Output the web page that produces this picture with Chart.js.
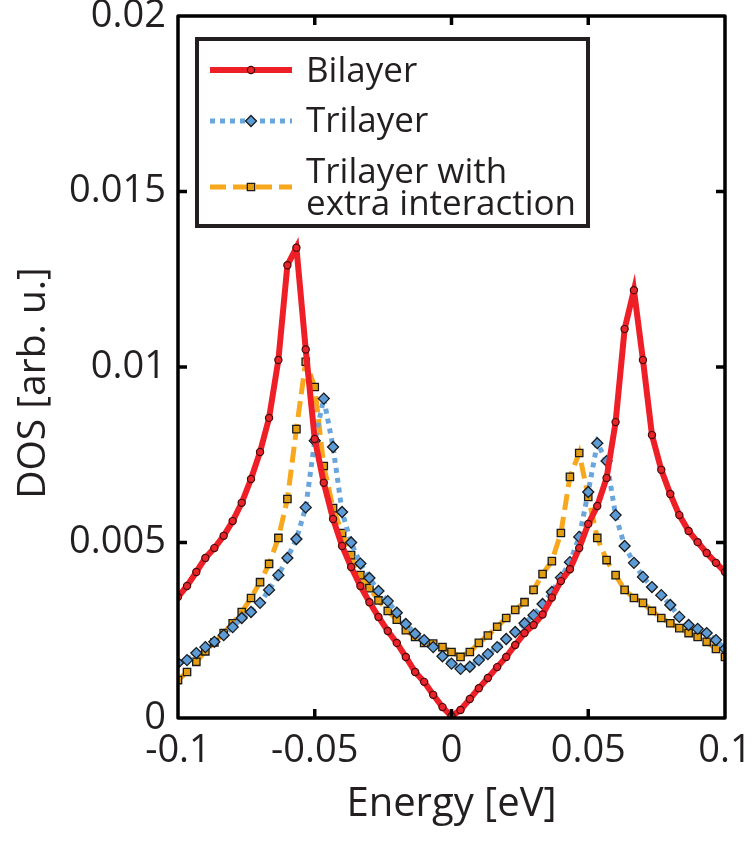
<!DOCTYPE html>
<html><head><meta charset="utf-8">
<script src="https://cdn.jsdelivr.net/npm/chart.js@4.4.1/dist/chart.umd.min.js"></script>
<style>html,body{margin:0;padding:0;background:#fff;}#wrap{width:754px;height:841px;}</style>
</head><body><div id="wrap"><canvas id="c" width="754" height="841"></canvas></div>
<script>
const energy = [-0.1,-0.0967,-0.0933,-0.09,-0.0867,-0.0833,-0.08,-0.0767,-0.0733,-0.07,
  -0.0667,-0.0633,-0.06,-0.0567,-0.0533,-0.05,-0.0467,-0.0433,-0.04,-0.0367,
  -0.0333,-0.03,-0.0267,-0.0233,-0.02,-0.0167,-0.0133,-0.01,-0.0067,-0.0033,
  0,0.0033,0.0067,0.01,0.0133,0.0167,0.02,0.0233,0.0267,0.03,
  0.0333,0.0367,0.04,0.0433,0.0467,0.05,0.0533,0.0567,0.06,0.0633,
  0.0667,0.07,0.0733,0.0767,0.08,0.0833,0.0867,0.09,0.0933,0.0967,0.1];
const bilayer = [0.00345,0.00376,0.00416,0.00456,0.00484,0.00519,0.00561,0.00613,0.00681,0.00758,
  0.00855,0.0102,0.0129,0.0134,0.0105,0.00795,0.0067,0.00567,0.0049,0.0043,
  0.00376,0.0033,0.00288,0.00248,0.00214,0.00174,0.00131,0.00103,0.00066,0.00031,
  0.00005,0.00023,0.00054,0.00085,0.00114,0.00145,0.00174,0.00208,0.00242,0.00265,
  0.00295,0.00343,0.0039,0.00424,0.00484,0.00553,0.00604,0.00684,0.00843,0.01108,
  0.01219,0.0102,0.00806,0.00707,0.00638,0.00578,0.00533,0.00501,0.0047,0.00442,0.00416];
const trilayer = [0.00157,0.00165,0.00185,0.00202,0.00217,0.00236,0.00259,0.00285,0.00302,0.00328,
  0.00365,0.00407,0.00456,0.0051,0.006,0.0079,0.0091,0.00772,0.00587,0.005,
  0.0044,0.00399,0.00362,0.00333,0.003,0.00268,0.0024,0.00222,0.00202,0.00176,
  0.00155,0.0014,0.00146,0.00165,0.00182,0.00202,0.00225,0.00245,0.0027,0.00293,
  0.00325,0.00359,0.004,0.00444,0.00516,0.00644,0.00783,0.00732,0.00578,0.0049,
  0.00442,0.00402,0.00373,0.0035,0.00322,0.00288,0.00265,0.00254,0.00242,0.00222,0.00197];
const trilayerExtra = [0.00108,0.00131,0.0016,0.0019,0.00215,0.00242,0.0027,0.00302,0.00342,0.00387,
  0.00439,0.00513,0.00624,0.00823,0.01015,0.00943,0.00718,0.00598,0.00527,0.00464,
  0.00407,0.0037,0.00335,0.00305,0.0028,0.0025,0.00231,0.00214,0.00212,0.00202,
  0.00188,0.00174,0.00188,0.00214,0.00235,0.0026,0.00285,0.00308,0.0033,0.00365,
  0.0041,0.00447,0.00527,0.00687,0.00755,0.0063,0.00513,0.0045,0.00407,0.00365,
  0.00342,0.00328,0.00305,0.00285,0.0027,0.00256,0.00242,0.00231,0.00217,0.00197,0.00174];
const xTicks = [-0.1,-0.05,0,0.05,0.1];
const xTickLabels = ['-0.1','-0.05','0','0.05','0.1'];
const yTicks = [0,0.005,0.01,0.015,0.02];
const yTickLabels = ['0','0.005','0.01','0.015','0.02'];
const seriesNames = [['Bilayer'],['Trilayer'],['Trilayer with','extra interaction']];
const xTitle = 'Energy [eV]';
const yTitle = 'DOS [arb. u.]';

const FONT = '"Open Sans", "DejaVu Sans", sans-serif';
const TEXT = '#231f20';
const toPts = ys => energy.map((e,i)=>({x:e,y:ys[i]}));

const datasets = [
  {label:seriesNames[0].join(' '), data:toPts(bilayer), borderColor:'#ee1f26', borderWidth:6,
   pointStyle:'circle', pointRadius:3.6, pointBackgroundColor:'#e8242a', pointBorderColor:'#4a0a0a', pointBorderWidth:1.2, order:0},
  {label:seriesNames[1].join(' '), data:toPts(trilayer), borderColor:'#6aa6dc', borderWidth:5, borderDash:[5,5],
   pointStyle:'rectRot', pointRadius:5.5, pointBackgroundColor:'#5d9bd6', pointBorderColor:'#1a1a1a', pointBorderWidth:1.3, order:1},
  {label:seriesNames[2].join(' '), data:toPts(trilayerExtra), borderColor:'#f8a81c', borderWidth:5, borderDash:[16,7],
   pointStyle:'rect', pointRadius:5.2, pointBackgroundColor:'#e39d12', pointBorderColor:'#1a1a1a', pointBorderWidth:1.3, order:2}
];

function drawMarker(ctx, style, x, y, r, fill, stroke, bw){
  ctx.save();
  ctx.setLineDash([]);
  ctx.fillStyle = fill; ctx.strokeStyle = stroke; ctx.lineWidth = bw;
  ctx.beginPath();
  if (style==='circle'){ ctx.arc(x,y,r,0,Math.PI*2); }
  else if (style==='rectRot'){ ctx.moveTo(x,y-r); ctx.lineTo(x+r,y); ctx.lineTo(x,y+r); ctx.lineTo(x-r,y); ctx.closePath(); }
  else { const s=Math.SQRT1_2*r; ctx.rect(x-s,y-s,2*s,2*s); }
  ctx.fill(); ctx.stroke();
  ctx.restore();
}

const framePlugin = {
  id:'frame',
  afterDatasetsDraw(chart){
    const {ctx, chartArea:a, scales:{x, y}} = chart;
    ctx.save();
    ctx.strokeStyle = '#000'; ctx.lineWidth = 3.5; ctx.setLineDash([]);
    const tl = 9;
    ctx.beginPath();
    xTicks.forEach(v=>{ if (v<=-0.1 || v>=0.1) return; const px=x.getPixelForValue(v);
      ctx.moveTo(px,a.bottom); ctx.lineTo(px,a.bottom-tl); ctx.moveTo(px,a.top); ctx.lineTo(px,a.top+tl); });
    yTicks.forEach(v=>{ if (v<=0 || v>=0.02) return; const py=y.getPixelForValue(v);
      ctx.moveTo(a.left,py); ctx.lineTo(a.left+tl,py); ctx.moveTo(a.right,py); ctx.lineTo(a.right-tl,py); });
    ctx.stroke();
    ctx.lineJoin = 'round';
    ctx.strokeRect(a.left, a.top, a.right-a.left, a.bottom-a.top);
    ctx.restore();
  },
  afterDraw(chart){
    const ctx = chart.ctx;
    // y axis title
    ctx.save();
    ctx.translate(45, 383);
    ctx.rotate(-Math.PI/2);
    ctx.fillStyle = TEXT; ctx.font = '39px '+FONT; ctx.textAlign='center'; ctx.textBaseline='alphabetic';
    ctx.fillText(yTitle, 0, 0);
    ctx.restore();
    // legend
    const bx=197, by=39, bw=391, bh=187;
    ctx.save();
    ctx.fillStyle='#fff'; ctx.fillRect(bx,by,bw,bh);
    ctx.strokeStyle='#231f20'; ctx.lineWidth=4; ctx.setLineDash([]);
    ctx.strokeRect(bx,by,bw,bh);
    const rows=[70,121,187];
    const baselines=[[82],[132],[183,215]];
    chart.data.datasets.forEach((ds,i)=>{
      const yy=rows[i];
      ctx.save();
      ctx.strokeStyle=ds.borderColor; ctx.lineWidth=ds.borderWidth;
      ctx.setLineDash(ds.borderDash||[]);
      ctx.beginPath(); ctx.moveTo(210,yy); ctx.lineTo(292,yy); ctx.stroke();
      ctx.restore();
      drawMarker(ctx, ds.pointStyle, 251, yy, ds.pointRadius, ds.pointBackgroundColor, ds.pointBorderColor, ds.pointBorderWidth);
      ctx.fillStyle=TEXT; ctx.font='35px '+FONT; ctx.textBaseline='alphabetic'; ctx.textAlign='left';
      seriesNames[i].forEach((t,j)=>ctx.fillText(t,306,baselines[i][j]));
    });
    ctx.restore();
  }
};

new Chart(document.getElementById('c'), {
  type:'line',
  data:{datasets},
  options:{
    responsive:false, animation:false, devicePixelRatio:1,
    layout:{padding:{top:16,right:29,left:0,bottom:0}},
    elements:{line:{tension:0}},
    plugins:{legend:{display:false}, tooltip:{enabled:false}},
    scales:{
      x:{type:'linear', min:-0.1, max:0.1,
        afterBuildTicks:s=>{s.ticks=xTicks.map(v=>({value:v}));},
        afterFit:s=>{s.height=123; s.paddingLeft=0; s.paddingRight=0; s.paddingTop=0; s.paddingBottom=0;},
        grid:{display:false, drawTicks:false}, border:{display:false},
        ticks:{padding:10, color:TEXT, font:{family:FONT,size:38}, maxRotation:0, autoSkip:false,
          callback:(v,i)=>xTickLabels[i]},
        title:{display:true, text:xTitle, color:TEXT, font:{family:FONT,size:40}, padding:{top:0,bottom:12}}
      },
      y:{type:'linear', min:0, max:0.02,
        afterBuildTicks:s=>{s.ticks=yTicks.map(v=>({value:v}));},
        afterFit:s=>{s.width=178; s.paddingLeft=0; s.paddingRight=0; s.paddingTop=0; s.paddingBottom=0;},
        grid:{display:false, drawTicks:false}, border:{display:false},
        ticks:{padding:12, color:TEXT, font:{family:FONT,size:38}, autoSkip:false,
          callback:(v,i)=>yTickLabels[i]},
        title:{display:false}
      }
    }
  },
  plugins:[framePlugin]
});
</script></body></html>
